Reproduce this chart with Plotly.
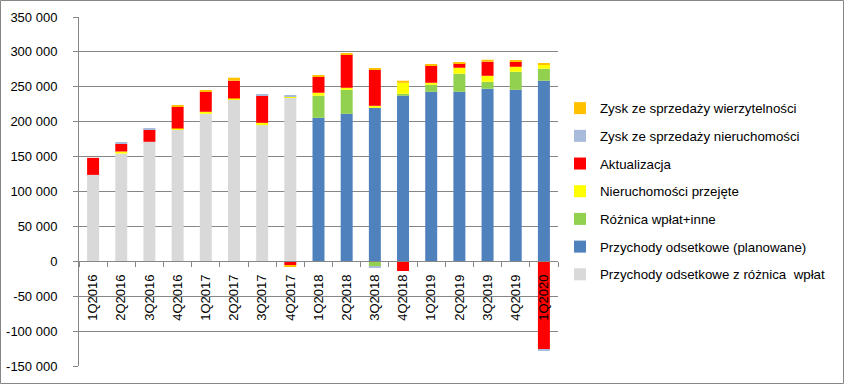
import plotly.graph_objects as go

categories = ["1Q2016", "2Q2016", "3Q2016", "4Q2016", "1Q2017", "2Q2017", "3Q2017", "4Q2017",
              "1Q2018", "2Q2018", "3Q2018", "4Q2018", "1Q2019", "2Q2019", "3Q2019", "4Q2019", "1Q2020"]

przychody_roznica = [123800, 154400, 171200, 188800, 211300, 231900, 195100, 235200,
                     0, 0, 0, 0, 0, 0, 0, 0, 0]
przychody_planowane = [0, 0, 0, 0, 0, 0, 0, 0,
                       205600, 211300, 219900, 237100, 242900, 242900, 247200, 245700, 258700]
roznica_wplat = [0, 0, 0, 0, 0, 0, 0, 0,
                 31600, 34400, -7600, 2900, 10000, 25800, 10000, 25800, 17200]
nieruchomosci_przejete = [0, 2900, 0, 1400, 2900, 1400, 3300, 1000,
                          4300, 2900, 2900, 15800, 2900, 8600, 8600, 7200, 5700]
aktualizacja = [24400, 11000, 17200, 31100, 28700, 25400, 39700, -5300,
                22900, 47300, 51600, -13900, 24400, 6700, 20100, 7200, -125700]
zysk_nieruchomosci = [0, 1400, 1400, 0, 0, 0, 1400, 1400,
                      0, 0, -1400, 0, 0, 0, 0, 0, -1400]
zysk_wierzytelnosci = [0, 0, 0, 1400, 1400, 4300, 0, -2900,
                       1400, 1900, 1400, 2900, 1400, 1400, 2900, 1400, 1900]

series_names = [
    "Przychody odsetkowe z różnica \u00a0wpłat",
    "Przychody odsetkowe (planowane)",
    "Różnica wpłat+inne",
    "Nieruchomości przejęte",
    "Aktualizacja",
    "Zysk ze sprzedaży nieruchomości",
    "Zysk ze sprzedaży wierzytelności",
]
series_values = [przychody_roznica, przychody_planowane, roznica_wplat, nieruchomosci_przejete,
                 aktualizacja, zysk_nieruchomosci, zysk_wierzytelnosci]
series_colors = ["#D9D9D9", "#4F81BD", "#92D050", "#FFFF00", "#FF0000", "#A9BBDA", "#FFC000"]

y_tickvals = [-150000, -100000, -50000, 0, 50000, 100000, 150000, 200000, 250000, 300000, 350000]
y_ticktext = ["-150 000", "-100 000", "-50 000", "0", "50 000", "100 000", "150 000",
              "200 000", "250 000", "300 000", "350 000"]

fig = go.Figure()
for i, (name, vals, col) in enumerate(zip(series_names, series_values, series_colors)):
    fig.add_trace(go.Bar(x=categories, y=vals, name=name, marker_color=col,
                         marker_line_width=0, legendgroup=f"g{i}", legendrank=1000 - 10 * i))

GRID = "#868686"
W, H = 844, 384
ml, mr, mt, mb = 79, 286, 17, 18
pw, ph = W - ml - mr, H - mt - mb

fig.update_layout(
    width=W, height=H,
    margin=dict(l=ml, r=mr, t=mt, b=mb, pad=0, autoexpand=False),
    barmode="relative", bargap=0.575,
    paper_bgcolor="white", plot_bgcolor="white",
    font=dict(family="Liberation Sans, Arial, sans-serif", size=13, color="black"),
    showlegend=True,
    legend=dict(x=(560 - ml) / pw, y=(H - mb - 93) / ph, xanchor="left", yanchor="top",
                traceorder="grouped", tracegroupgap=7.4,
                font=dict(family="Liberation Sans, Arial, sans-serif", size=13.3, color="black"),
                bgcolor="rgba(0,0,0,0)"),
    xaxis=dict(type="category", anchor="free", position=0.3, showline=True, linecolor=GRID,
               linewidth=1, ticks="outside", tickson="boundaries", ticklen=5, tickcolor=GRID,
               tickangle=-90, showgrid=False, zeroline=False, ticklabelstandoff=7,
               tickfont=dict(size=13)),
    yaxis=dict(range=[-150000, 350000], tickvals=y_tickvals, ticktext=y_ticktext,
               showline=True, linecolor=GRID, linewidth=1, ticks="outside", ticklen=5,
               tickcolor=GRID, showgrid=True, gridcolor=GRID, gridwidth=1, zeroline=False,
               ticklabelstandoff=13, tickfont=dict(size=13), domain=[0, 1]),
    shapes=[dict(type="rect", xref="paper", yref="paper",
                 x0=(0.5 - ml) / pw, x1=(W - 0.5 - ml) / pw,
                 y0=(H - mb - (H - 0.5)) / ph, y1=(H - mb - 0.5) / ph,
                 line=dict(color=GRID, width=1), fillcolor="rgba(0,0,0,0)", layer="above")],
)

fig.write_html("out.html", config={"displayModeBar": False},
               post_script="document.body.style.margin='0';")
